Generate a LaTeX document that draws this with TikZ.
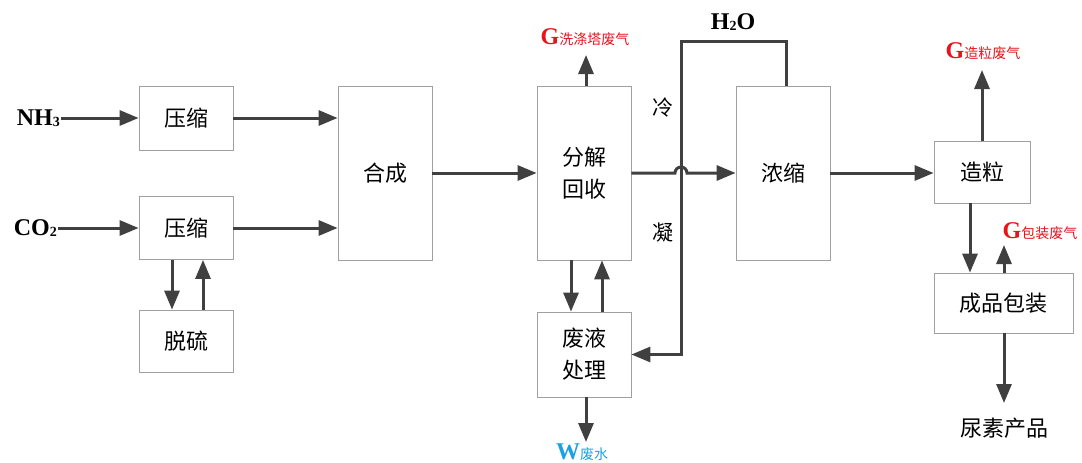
\documentclass[tikz,border=0pt]{standalone}
\usepackage{fontspec}
\setmainfont{Liberation Serif}
\newfontfamily\cjk{Noto Sans CJK SC}
\usetikzlibrary{arrows.meta}
\definecolor{ln}{HTML}{404040}
\definecolor{bx}{HTML}{A0A0A0}
\definecolor{gred}{HTML}{E8141C}
\definecolor{wblue}{HTML}{1BA1E2}
\newcommand{\sub}[1]{\raisebox{-0.5pt}{\fontsize{14}{14}\selectfont #1}}
\begin{document}
\begin{tikzpicture}[x=1pt,y=-1pt,
  box/.style={draw=bx,line width=0.8pt,align=center,inner sep=0pt,
    font=\cjk\fontsize{22}{32}\selectfont},
  flow/.style={draw=ln,line width=3pt,-{Triangle[length=19pt,width=15pt]}},
  chem/.style={font=\bfseries\fontsize{24}{26}\selectfont,text=black,inner sep=1pt},
  glab/.style={inner sep=1pt,text=gred},
  cn/.style={font=\cjk\fontsize{21}{24}\selectfont,inner sep=1pt}]
\useasboundingbox (0,0) rectangle (1082,463);
% boxes
\node[box,minimum width=94,minimum height=64] (ys1) at (186,118) {压缩};
\node[box,minimum width=94,minimum height=63] (ys2) at (186,228) {压缩};
\node[box,minimum width=94,minimum height=62] (tl) at (186,341) {脱硫};
\node[box,minimum width=94,minimum height=174] (hc) at (385,173) {合成};
\node[box,minimum width=94,minimum height=174] (fj) at (584,173) {分解\\回收};
\node[box,minimum width=94,minimum height=85] (fy) at (584,354.5) {废液\\处理};
\node[box,minimum width=94,minimum height=174] (ns) at (783,173) {浓缩};
\node[box,minimum width=96,minimum height=62] (zl) at (982,172) {造粒};
\node[box,minimum width=139,minimum height=60] (cp) at (1003.5,303) {成品包装};
% labels
\node[chem,anchor=east] (nh3) at (61,118) {NH\sub{3}};
\node[chem,anchor=east] (co2) at (58,228) {CO\sub{2}};
\node[chem] (h2o) at (733,22) {H\sub{2}O};
\node[cn] (leng) at (663,108) {冷};
\node[cn] (ning) at (663,233) {凝};
\node[glab] (g1) at (585,37) {{\bfseries\fontsize{24}{26}\selectfont G}{\cjk\fontsize{14}{16}\selectfont 洗涤塔废气}};
\node[glab] (g2) at (983,51) {{\bfseries\fontsize{24}{26}\selectfont G}{\cjk\fontsize{14}{16}\selectfont 造粒废气}};
\node[glab] (g3) at (1040,231) {{\bfseries\fontsize{24}{26}\selectfont G}{\cjk\fontsize{14}{16}\selectfont 包装废气}};
\node[inner sep=0pt,text=wblue] (w) at (582,452) {{\bfseries\fontsize{24}{26}\selectfont W}{\cjk\fontsize{14}{16}\selectfont 废水}};
\node[cn,font=\cjk\fontsize{22}{24}\selectfont] (ns2) at (1004,428) {尿素产品};
% coordinates
\coordinate (g1a) at (586,55);
\coordinate (g2a) at (982,70);
\coordinate (g3a) at (1004,245);
\coordinate (wa) at (586,442);
\coordinate (pa) at (1004,403);
\coordinate (j) at (681,173);
\coordinate (t1) at (681,41);
\coordinate (t2) at (786,41);
% flows
\draw[flow] (nh3.east) -- (nh3.east -| ys1.west);
\draw[flow] (co2.east) -- (co2.east -| ys2.west);
\draw[flow] (ys1.east) -- (ys1.east -| hc.west);
\draw[flow] (ys2.east) -- (ys2.east -| hc.west);
\draw[flow] ([xshift=-14]ys2.south) -- ([xshift=-14]tl.north);
\draw[flow] ([xshift=17]tl.north) -- ([xshift=17]ys2.south);
\draw[flow] (hc.east) -- (fj.west);
\draw[flow] ([xshift=2]fj.north) -- (g1a);
\draw[flow] ([xshift=-13]fj.south) -- ([xshift=-13]fy.north);
\draw[flow] ([xshift=18]fy.north) -- ([xshift=18]fj.south);
\draw[flow] ([xshift=2]fy.south) -- (wa);
\draw[flow] (fj.east) -- ([xshift=-6]j) arc[start angle=180,end angle=0,radius=6pt] -- (ns.west);
\draw[flow] ([xshift=3]ns.north) -- (t2) -- (t1) -- (t1 |- fy.east) -- (fy.east);
\draw[flow] (ns.east) -- (ns.east -| zl.west);
\draw[flow] (zl.north) -- (g2a);
\draw[flow] ([xshift=-12]zl.south) -- ([xshift=-12]zl.south |- cp.north);
\draw[flow] (g3a |- cp.north) -- (g3a);
\draw[flow] (g3a |- cp.south) -- (pa);
\end{tikzpicture}
\end{document}
